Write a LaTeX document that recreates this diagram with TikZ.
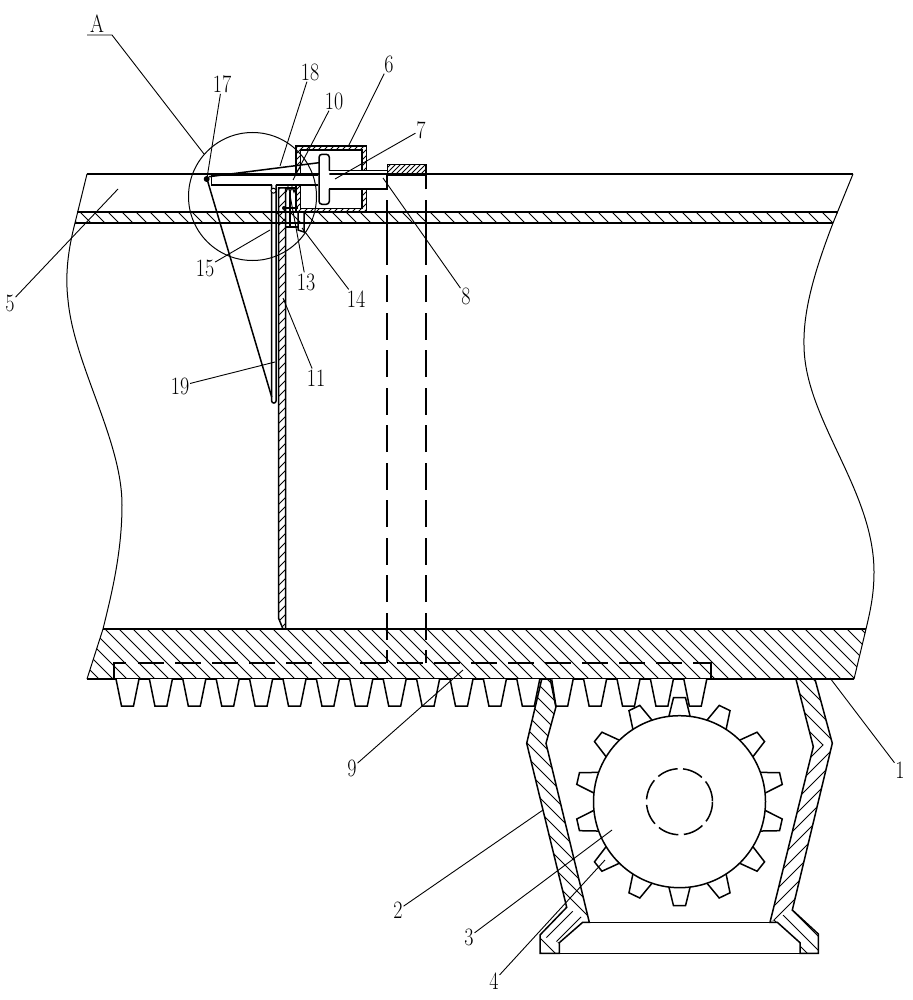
\documentclass[tikz,border=0pt]{standalone}
\usepackage{amsmath}
\usetikzlibrary{calc}
\tikzset{
    outline/.style={line width=1.5pt, line join=miter},
    thinline/.style={line width=1pt},
    hatchline/.style={line width=0.9pt},
    hiddenline/.style={line width=1.5pt},
    rodhidden/.style={hiddenline, dash pattern=on 27pt off 10.5pt, dash phase=14pt},
    leader/.style={line width=0.9pt},
    lbl/.style={font=\fontsize{25}{25}\selectfont, xscale=0.8, inner sep=1pt}
}
% hatching inside a closed path: path, spacing
\newcommand{\hatchdown}[2]{
    \begin{scope}
        \clip #1;
        \draw[hatchline] \foreach \k in {0,...,300} {({\k*#2-1000},0) -- ++(1000,1000)};
    \end{scope}
}
\newcommand{\hatchup}[2]{
    \begin{scope}
        \clip #1;
        \draw[hatchline] \foreach \k in {0,...,300} {({\k*#2},0) -- ++(-1000,1000)};
    \end{scope}
}
\begin{document}
\begin{tikzpicture}[x=1pt,y=-1pt]
    \useasboundingbox (0,0) rectangle (912,1000);
    \fill[white] (0,0) rectangle (912,1000);
    \newcommand{\rackbottom}{679}
    \newcommand{\toothpitch}{33.4}
    \coordinate (gearcent) at (679.5,801.7);

    % conveyor body
    \draw[outline] (87,174) -- (853,174);
    \draw[thinline] (87,174) -- (75,223) .. controls (68,250) and (65,275) .. (68,300) .. controls (74,365) and (122,440) .. (122,505) .. controls (122,555) and (110,600) .. (103,629) -- (87,679);
    \draw[thinline] (853,174) -- (833,223) .. controls (815,270) and (803,310) .. (804,346) .. controls (805,420) and (874,490) .. (874,572) .. controls (874,595) and (870,612) .. (866,629) -- (854,679);
    \hatchdown{(77,212) -- (838,212) -- (833,223) -- (75,223) -- cycle}{14}
    \draw[outline] (77,212) -- (838,212);
    \draw[outline] (75,223) -- (833,223);
    \hatchdown{(103,629) -- (866,629) -- (854,679) -- (87,679) -- cycle}{14}
    \draw[outline] (103,629) -- (866,629);
    \draw[outline] (87,679) -- (854,679);

    % rack teeth
    \foreach \k in {0,...,17} {
        \draw[outline,fill=white] ({116+\k*\toothpitch},\rackbottom) -- ++(5.5,27) -- ++(12,0) -- ++(5.5,-27);
    }

    % hidden rack and lifting rods
    \draw[hiddenline] (114,679) -- (114,663) -- (126,663);
    \draw[hiddenline,dash pattern=on 26pt off 11pt] (138,663) -- (700,663);
    \draw[hiddenline] (700,663) -- (711,663) -- (711,679);
    \draw[rodhidden] (387,663) -- (387,175);
    \draw[rodhidden] (426,663) -- (426,175);
    \draw[hiddenline] (387,227) -- (387,238);
    \draw[hiddenline] (426,227) -- (426,238);

    % cap on the rods
    \hatchup{(387.7,164.3) rectangle (426,175)}{5}
    \draw[outline] (387.7,164.3) rectangle (426,175);

    % bracket
    \hatchdown{(541.7,679.3) -- (526.7,743.3) -- (566.7,907.3) -- (589.3,922.3) -- (546,743.3) -- (556,706.7) -- (551.7,679.3) -- cycle}{14}
    \hatchup{(566.7,907.3) -- (540,935) -- (559.3,942.7) -- (582.7,922.3) -- (589.3,922.3) -- cycle}{14}
    \hatchdown{(540,935) -- (540,953.3) -- (559.3,953.3) -- (559.3,942.7) -- cycle}{14}
    \hatchdown{(796,679.3) -- (815,679.3) -- (832.3,743.3) -- (813.3,746.7) -- cycle}{14}
    \hatchup{(832.3,743.3) -- (792.3,910) -- (770,922.3) -- (813.3,746.7) -- cycle}{14}
    \hatchdown{(792.3,910) -- (818.3,934) -- (818.3,953.3) -- (800,953.3) -- (800,942.7) -- (777.3,922.3) -- (770,922.3) -- cycle}{14}
    \draw[outline] (541.7,679.3) -- (526.7,743.3) -- (566.7,907.3) -- (540,935) -- (540,953.3) -- (559.3,953.3) -- (559.3,942.7) -- (582.7,922.3) -- (589.3,922.3) -- (546,743.3) -- (556,706.7) -- (551.7,679.3);
    \draw[outline] (815,679.3) -- (832.3,743.3) -- (792.3,910) -- (818.3,934) -- (818.3,953.3) -- (800,953.3) -- (800,942.7) -- (777.3,922.3) -- (770,922.3) -- (813.3,746.7) -- (796,679.3);
    \draw[outline] (582.7,922.3) -- (777.3,922.3);
    \draw[outline] (559.3,953.3) -- (800,953.3);

    % gear
    \foreach \k in {0,...,13} {
        \draw[outline,fill=white,shift={(gearcent)},rotate={\k*360/14}] (-10.7,-85) -- (-6,-104) -- (6,-104) -- (10.7,-85);
    }
    \draw[outline,fill=white] (gearcent) circle (86);
    \draw[outline,dash pattern=on 21pt off 5.5pt] (gearcent) circle (33);

    % plate with the pointed end
    \hatchup{(278.5,188) -- (285.5,188) -- (285.5,629) -- (283,629) -- (278.5,618) -- cycle}{9}
    \draw[outline] (278.5,188) -- (285.5,188) -- (285.5,629) -- (283,629) -- (278.5,618) -- cycle;
    \draw[outline,rounded corners=2pt] (271.7,185) -- (271.7,403) -- (276,403) -- (276,185);
    \draw[outline] (207,179) -- (271.7,397);

    % housing
    \hatchup{(296,146) -- (366.7,146) -- (366.7,170.7) -- (362,170.7) -- (362,150) -- (300.5,150) -- (300.5,175) -- (296,175) -- cycle}{6}
    \draw[outline] (296,146) -- (366.7,146) -- (366.7,170.7) -- (362,170.7) -- (362,150) -- (300.5,150) -- (300.5,175) -- (296,175) -- cycle;
    \hatchup{(296,185) -- (300.5,185) -- (300.5,208.5) -- (362,208.5) -- (362,189) -- (366.7,189) -- (366.7,212.7) -- (296,212.7) -- cycle}{6}
    \draw[outline] (296,185) -- (300.5,185) -- (300.5,208.5) -- (362,208.5) -- (362,189) -- (366.7,189) -- (366.7,212.7) -- (296,212.7) -- cycle;

    % rod, piston and lever
    \draw[outline] (211.7,175) -- (318,175);
    \draw[outline] (318,185) -- (276,185);
    \draw[outline] (271.7,185) -- (211.7,185) -- (211.7,175);
    \draw[outline,fill=white,rounded corners=3pt] (329.3,170.7) -- (329.3,154.3) -- (319,154.3) -- (319,204.3) -- (329.3,204.3) -- (329.3,189);
    \draw[outline] (329.3,170.7) -- (387.7,170.7);
    \draw[outline] (329.3,189) -- (387.7,189);
    \draw[outline] (387.7,170.7) -- (387.7,189);
    \draw[outline] (209,176.7) -- (319,162.7);
    \fill (206.7,179) circle (3);
    \draw[thinline,fill=white] (273.5,190.7) circle (2.5);

    % spring, stop block
    \draw[outline] (285.5,188) -- (296,188);
    \draw[line width=1.2pt] (286,192) -- (288,187) -- (290,192) -- (292,187) -- (294,192) -- (296,187);
    \draw[outline] (290,192) -- (290,227);
    \fill (284,208) circle (2);
    \draw[outline] (285.5,208) -- (298,208);
    \draw[outline] (285.5,227) -- (298,227);
    \draw[outline] (298,212.7) -- (298,230) -- (304,232) -- (304,212.7);

    % detail circle
    \draw[thinline] (252.5,196.5) circle (64);

    % labels and leaders
    \foreach \nm/\lx/\ly/\tx/\ty in {
        1/900/770/830/678, 2/398/910/543/810, 3/469/937/612/830, 4/494/981/605/860,
        5/10/303/118/189, 6/389/64/348/147, 7/421/130/335/179, 8/466/296/383/178,
        9/352/768/463/670, 10/334/101/293/180, 11/316/378/283/298, 13/306/282/290/195,
        14/356/299/302/228, 15/205/268/270/230, 17/222/84/207/178, 18/310/72/280/166,
        19/180/386/275/362} {
        \node[lbl] (lbl\nm) at (\lx,\ly) {\nm};
        \coordinate (tip\nm) at (\tx,\ty);
        \draw[leader] (lbl\nm) -- (tip\nm);
    }
    \node[lbl] (lblA) at (97,24) {A};
    \coordinate (ulineA) at (87,35);
    \coordinate (kneeA) at (112,35);
    \coordinate (tipA) at (204,154);
    \draw[leader] (ulineA) -- (kneeA) -- (tipA);
\end{tikzpicture}
\end{document}
